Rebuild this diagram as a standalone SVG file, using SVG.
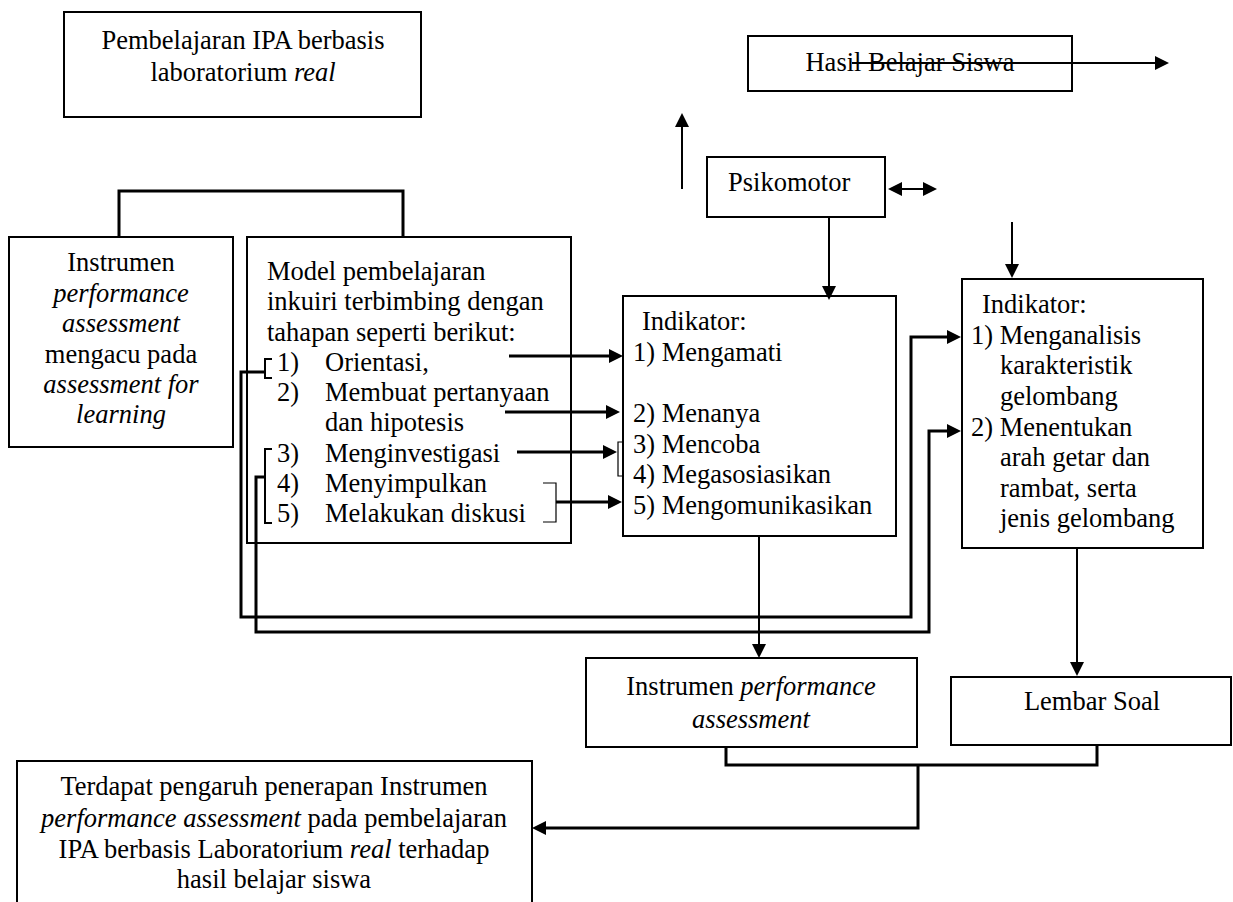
<svg xmlns="http://www.w3.org/2000/svg" width="1233" height="902" viewBox="0 0 1233 902">
<style>
  .box { fill: #fff; stroke: #000; stroke-width: 2; }
  .t { font-family: 'Liberation Serif', 'Times New Roman', serif; font-size: 26.5px; fill: #000; }
  .m { text-anchor: middle; }
  .i { font-style: italic; }
  .c3 { fill: none; stroke: #000; stroke-width: 3; }
  .c2 { fill: none; stroke: #000; stroke-width: 2; }
  .c1 { fill: none; stroke: #000; stroke-width: 1.2; }
  .arr { marker-end: url(#ah); }
</style>
<defs>
  <marker id="ah" viewBox="0 0 14 14" refX="9" refY="7" markerWidth="14" markerHeight="14" markerUnits="userSpaceOnUse" orient="auto-start-reverse">
    <path d="M0,0 L14,7 L0,14 z" fill="#000"/>
  </marker>
</defs>
<rect width="1233" height="902" fill="#fff"/>

<g id="node-pembelajaran">
  <rect class="box" x="64" y="12" width="357" height="105"/>
  <text class="t m" x="243" y="49">Pembelajaran IPA berbasis</text>
  <text class="t m" x="243" y="81">laboratorium <tspan class="i">real</tspan></text>
</g>

<g id="node-hasil">
  <rect class="box" x="748" y="36" width="324" height="55"/>
  <text class="t m" x="910" y="71">Hasil Belajar Siswa</text>
</g>

<g id="node-psikomotor">
  <rect class="box" x="707" y="157" width="178" height="60"/>
  <text class="t" x="728" y="191">Psikomotor</text>
</g>

<g id="node-instrumen">
  <rect class="box" x="9" y="237" width="224" height="210"/>
  <text class="t m" x="121" y="271">Instrumen</text>
  <text class="t m i" x="121" y="302">performance</text>
  <text class="t m i" x="121" y="332">assessment</text>
  <text class="t m" x="121" y="363">mengacu pada</text>
  <text class="t m i" x="121" y="393">assessment for</text>
  <text class="t m i" x="121" y="423">learning</text>
</g>

<g id="node-model">
  <rect class="box" x="247" y="237" width="324" height="306"/>
  <text class="t" x="267" y="280">Model pembelajaran</text>
  <text class="t" x="267" y="310">inkuiri terbimbing dengan</text>
  <text class="t" x="267" y="341">tahapan seperti berikut:</text>
  <text class="t" x="277" y="371">1)</text><text class="t" x="325" y="371">Orientasi,</text>
  <text class="t" x="277" y="401">2)</text><text class="t" x="325" y="401">Membuat pertanyaan</text>
  <text class="t" x="325" y="431">dan hipotesis</text>
  <text class="t" x="277" y="462">3)</text><text class="t" x="325" y="462">Menginvestigasi</text>
  <text class="t" x="277" y="492">4)</text><text class="t" x="325" y="492">Menyimpulkan</text>
  <text class="t" x="277" y="522">5)</text><text class="t" x="325" y="522">Melakukan diskusi</text>
</g>

<g id="node-indikator1">
  <rect class="box" x="623" y="296" width="273" height="240"/>
  <text class="t" x="642" y="330">Indikator:</text>
  <text class="t" x="633" y="361">1) Mengamati</text>
  <text class="t" x="633" y="422">2) Menanya</text>
  <text class="t" x="633" y="453">3) Mencoba</text>
  <text class="t" x="633" y="483">4) Megasosiasikan</text>
  <text class="t" x="633" y="514">5) Mengomunikasikan</text>
</g>

<g id="node-indikator2">
  <rect class="box" x="962" y="279" width="241" height="269"/>
  <text class="t" x="982" y="313">Indikator:</text>
  <text class="t" x="971" y="344">1) Menganalisis</text>
  <text class="t" x="1000" y="374">karakteristik</text>
  <text class="t" x="1000" y="405">gelombang</text>
  <text class="t" x="971" y="436">2) Menentukan</text>
  <text class="t" x="1000" y="466">arah getar dan</text>
  <text class="t" x="1000" y="497">rambat, serta</text>
  <text class="t" x="1000" y="527">jenis gelombang</text>
</g>

<g id="node-instrumen-pa">
  <rect class="box" x="586" y="658" width="331" height="89"/>
  <text class="t m" x="751" y="695">Instrumen <tspan class="i">performance</tspan></text>
  <text class="t m i" x="751" y="728">assessment</text>
</g>

<g id="node-lembar">
  <rect class="box" x="951" y="677" width="280" height="68"/>
  <text class="t m" x="1092" y="710">Lembar Soal</text>
</g>

<g id="node-kesimpulan">
  <rect class="box" x="17" y="761" width="515" height="160"/>
  <text class="t m" x="274" y="795">Terdapat pengaruh penerapan Instrumen</text>
  <text class="t m" x="274" y="827"><tspan class="i">performance assessment</tspan> pada pembelajaran</text>
  <text class="t m" x="274" y="858">IPA berbasis Laboratorium <tspan class="i">real</tspan> terhadap</text>
  <text class="t m" x="274" y="888">hasil belajar siswa</text>
</g>

<g id="connectors">
  <path class="c3" d="M119,237 V191 H403 V237"/>
  <path class="c2 arr" d="M682,189 V118"/>
  <path class="c2 arr" d="M852,63 H1164"/>
  <path class="c2" d="M893,189 H932" marker-start="url(#ah)" marker-end="url(#ah)"/>
  <path class="c2 arr" d="M829,217 V295"/>
  <path class="c2 arr" d="M1012,222 V273"/>
  <path class="c3 arr" d="M509,356 H618"/>
  <path class="c3 arr" d="M505,412 H615"/>
  <path class="c3 arr" d="M517,452 H612"/>
  <path class="c1" d="M623,442 H618 V476 H623"/>
  <path class="c1" d="M543,483 H556 V522 H543"/>
  <path class="c3 arr" d="M556,502 H617"/>
  <path class="c2" d="M272,359 H265 V378 H272"/>
  <path class="c2" d="M272,449 H265 V523 H272"/>
  <path class="c3 arr" d="M265,372 H241 V617 H911 V337 H956"/>
  <path class="c3 arr" d="M265,477 H256 V632 H929 V431 H956"/>
  <path class="c2 arr" d="M759,536 V653"/>
  <path class="c2 arr" d="M1077,548 V671"/>
  <path class="c3" d="M726,747 V765 H1097 V745"/>
  <path class="c3 arr" d="M918,765 V828 H537"/>
</g>
</svg>
